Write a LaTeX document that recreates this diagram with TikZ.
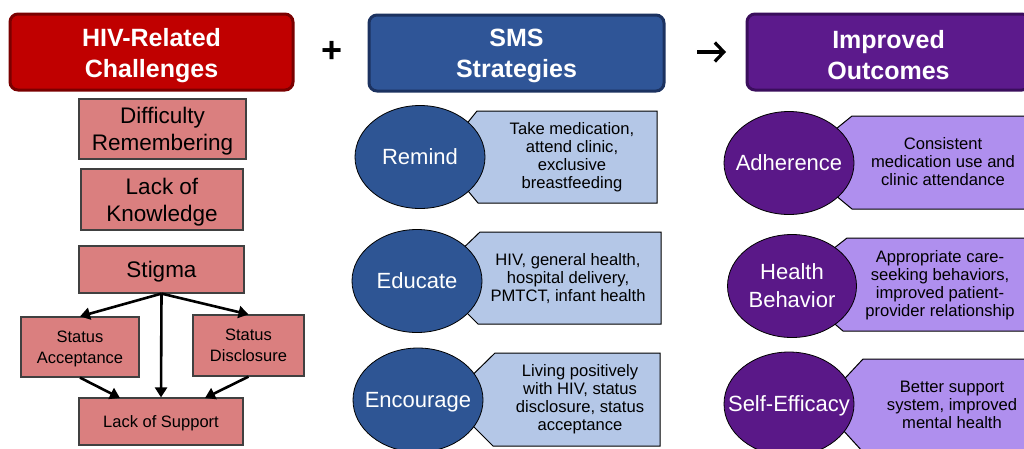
\documentclass[tikz,border=0pt]{standalone}
\usepackage{fontspec}
\setmainfont{Liberation Sans}
\usetikzlibrary{arrows.meta,shapes.geometric}
\definecolor{chalred}{HTML}{C00000}
\definecolor{chalredline}{HTML}{7A0000}
\definecolor{smsblue}{HTML}{2F5597}
\definecolor{smsblueline}{HTML}{1C3260}
\definecolor{outpurple}{HTML}{5C1A8C}
\definecolor{outpurpleline}{HTML}{3A0E5C}
\definecolor{salmon}{HTML}{DA7F7F}
\definecolor{paleblue}{HTML}{B4C7E7}
\definecolor{lavender}{HTML}{AF8FEE}
\definecolor{ellblue}{HTML}{2E5594}
\definecolor{ellpurple}{HTML}{5A1888}
\newcommand{\zw}[1]{\makebox[0pt]{#1}}
\begin{document}
\begin{tikzpicture}[x=1pt,y=-1pt,
  titlebox/.style={rounded corners=8pt, line width=3pt, minimum width=283pt, minimum height=76pt, inner sep=0pt},
  titletxt/.style={text=white, align=center, inner sep=0pt, font=\fontsize{25}{31}\selectfont\bfseries},
  issue/.style={draw=black!75, line width=1.2pt, fill=salmon, align=center, inner sep=0pt, text depth=0pt},
  bigtxt/.style={font=\fontsize{22.5}{27}\selectfont},
  smalltxt/.style={font=\fontsize{16.5}{21}\selectfont},
  arr/.style={line width=2.6pt, -{Triangle[length=10pt,width=12pt]}},
  strat/.style={ellipse, draw=black, line width=0.8pt, text=white, align=center,
    inner sep=0pt, minimum width=130pt, minimum height=103pt, text depth=0pt,
    font=\fontsize{22}{28}\selectfont},
  callout/.style={draw=black, line width=1pt},
  calltxt/.style={align=center, inner sep=0pt, font=\fontsize{16.6}{18}\selectfont},
]
\useasboundingbox (0,0) rectangle (1024,448);
\clip (0,0) rectangle (1024,448);
\fill[white] (0,0) rectangle (1024,448);

% ---- column headings ----
\node[titlebox, fill=chalred, draw=chalredline] (hchal) at (151.5,52) {};
\node[titletxt] (hchaltxt) at (151.5,56) {HIV-Related\\Challenges};
\node[titlebox, fill=smsblue, draw=smsblueline, minimum width=295pt] (hsms) at (516.5,53) {};
\node[titletxt] (hsmstxt) at (516.5,56) {SMS\\Strategies};
\node[titlebox, fill=outpurple, draw=outpurpleline] (hout) at (888.5,52) {};
\node[titletxt] (houttxt) at (888.5,55) {Improved\\Outcomes};
\node[font=\fontsize{36}{36}\selectfont\bfseries] (plus) at (332,52) {+};
\coordinate (toA) at (697,52);
\coordinate (toB) at (726,52);
\draw[line width=3.2pt, -{Straight Barb[length=9pt,width=19pt,line width=3.2pt]}] (toA) -- (toB);

% ---- challenges ----
\node[issue, bigtxt, minimum width=167pt, minimum height=60pt] (diff) at (162.5,129) {Difficulty\\Remembering};
\node[issue, bigtxt, minimum width=162pt, minimum height=61pt] (know) at (162,199.5) {Lack of\\Knowledge};
\node[issue, bigtxt, minimum width=165pt, minimum height=47pt] (stigma) at (161.5,269.5) {Stigma};
\node[issue, smalltxt, minimum width=118pt, minimum height=60pt] (sacc) at (80,347) {Status\\Acceptance};
\node[issue, smalltxt, minimum width=111pt, minimum height=61pt] (sdis) at (248.5,345.5) {Status\\Disclosure};
\node[issue, smalltxt, minimum width=164pt, minimum height=47pt] (supp) at (161,421.5) {Lack of Support};
\coordinate (suppL) at (120,398);
\coordinate (suppR) at (205,398);

\draw[arr] (stigma.south) -- (sacc.north);
\draw[arr] (stigma.south) -- (sdis.north);
\draw[arr] (stigma.south) -- (supp.north);
\draw[arr] (sacc.south) -- (suppL);
\draw[arr] (sdis.south) -- (suppR);

% ---- SMS strategies ----
\filldraw[callout, fill=paleblue] (440,157) -- (477,111) -- (657,111) -- (657,203) -- (478,203) -- cycle;
\node[calltxt] (remtxt) at (572,157) {Take medication,\\attend clinic,\\exclusive\\breastfeeding};
\node[strat, fill=ellblue] (remind) at (420,157) {\zw{Remind}};

\filldraw[callout, fill=paleblue] (432,278) -- (480,232) -- (661,232) -- (661,324) -- (478,324) -- cycle;
\node[calltxt] (edutxt) at (568,279) {HIV, general health,\\hospital delivery,\\PMTCT, infant health};
\node[strat, fill=ellblue] (educate) at (417,281) {\zw{Educate}};

\filldraw[callout, fill=paleblue] (447,400) -- (495,353) -- (660,353) -- (660,446) -- (493,446) -- cycle;
\node[calltxt] (enctxt) at (580,399) {Living positively\\with HIV, status\\disclosure, status\\acceptance};
\node[strat, fill=ellblue, minimum height=104pt] (encourage) at (418,400) {\zw{Encourage}};

% ---- outcomes ----
\filldraw[callout, fill=lavender] (795,162) -- (852,116) -- (1030,116) -- (1030,209) -- (852,209) -- cycle;
\node[calltxt] (adhtxt) at (943,162) {Consistent\\medication use and\\clinic attendance};
\node[strat, fill=ellpurple] (adherence) at (789,163) {\zw{Adherence}};

\filldraw[callout, fill=lavender] (788,284) -- (847,238) -- (1030,238) -- (1030,331) -- (843,331) -- cycle;
\node[calltxt] (hbtxt) at (940,285) {Appropriate care-\\seeking behaviors,\\improved patient-\\provider relationship};
\node[strat, fill=ellpurple, minimum width=129pt] (health) at (792,286) {\zw{Health}\\\zw{Behavior}};

\filldraw[callout, fill=lavender] (820,405) -- (863,359) -- (1030,359) -- (1030,452) -- (863,452) -- cycle;
\node[calltxt] (setxt) at (952,405) {Better support\\system, improved\\mental health};
\node[strat, fill=ellpurple, minimum height=104pt] (selfeff) at (789,404) {\zw{Self-Efficacy}};
\end{tikzpicture}
\end{document}
